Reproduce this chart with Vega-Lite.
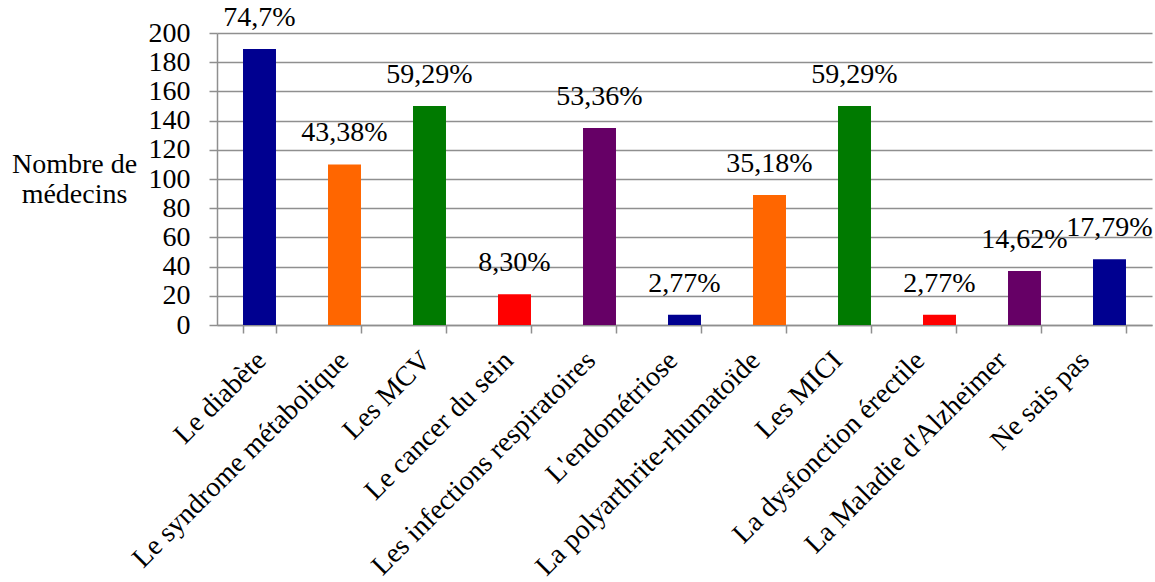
{
  "$schema": "https://vega.github.io/schema/vega-lite/v6.json",
  "autosize": "none",
  "width": 935,
  "height": 292,
  "padding": {"left": 217, "top": 33, "right": 3, "bottom": 257},
  "background": "white",
  "config": {
    "view": {"stroke": null},
    "font": "Liberation Serif",
    "axis": {
      "labelFont": "Liberation Serif",
      "labelFontSize": 28,
      "labelColor": "black",
      "titleFont": "Liberation Serif",
      "titleFontSize": 28,
      "titleFontWeight": "normal",
      "titleColor": "black",
      "domainColor": "#8f8f8f",
      "domainWidth": 1.5,
      "tickColor": "#8f8f8f",
      "tickWidth": 1.5,
      "tickSize": 8,
      "gridColor": "#8f8f8f",
      "gridWidth": 1.5
    }
  },
  "data": {
    "values": [
      {"reponse": "Le diabète", "medecins": 189, "pourcentage": "74,7%"},
      {"reponse": "Le syndrome métabolique", "medecins": 110, "pourcentage": "43,38%"},
      {"reponse": "Les MCV", "medecins": 150, "pourcentage": "59,29%"},
      {"reponse": "Le cancer du sein", "medecins": 21, "pourcentage": "8,30%"},
      {"reponse": "Les infections respiratoires", "medecins": 135, "pourcentage": "53,36%"},
      {"reponse": "L'endométriose", "medecins": 7, "pourcentage": "2,77%"},
      {"reponse": "La polyarthrite-rhumatoïde", "medecins": 89, "pourcentage": "35,18%"},
      {"reponse": "Les MICI", "medecins": 150, "pourcentage": "59,29%"},
      {"reponse": "La dysfonction érectile", "medecins": 7, "pourcentage": "2,77%"},
      {"reponse": "La Maladie d'Alzheimer", "medecins": 37, "pourcentage": "14,62%"},
      {"reponse": "Ne sais pas", "medecins": 45, "pourcentage": "17,79%"}
    ]
  },
  "encoding": {
    "x": {
      "field": "reponse",
      "type": "nominal",
      "sort": null,
      "scale": {"paddingInner": 0.612, "paddingOuter": 0.306},
      "axis": {
        "title": null,
        "labelAngle": -45,
        "labelAlign": "right",
        "labelBaseline": "middle",
        "labelPadding": 23,
        "labelOffset": {"expr": "2 - 27 * datum.index"},
        "tickBand": "extent",
        "grid": false,
        "labelLimit": 0
      }
    },
    "y": {
      "field": "medecins",
      "type": "quantitative",
      "scale": {"domain": [0, 200], "nice": false},
      "axis": {
        "values": [0, 20, 40, 60, 80, 100, 120, 140, 160, 180, 200],
        "title": ["Nombre de", "médecins"],
        "titleAngle": 0,
        "titleAlign": "center",
        "titleBaseline": "middle",
        "titleX": -143,
        "titleY": 131,
        "titleLineHeight": 30,
        "labelPadding": 19,
        "grid": true
      }
    }
  },
  "layer": [
    {
      "mark": {"type": "bar"},
      "encoding": {
        "color": {
          "field": "reponse",
          "type": "nominal",
          "legend": null,
          "scale": {
            "domain": ["Le diabète", "Le syndrome métabolique", "Les MCV", "Le cancer du sein", "Les infections respiratoires", "L'endométriose", "La polyarthrite-rhumatoïde", "Les MICI", "La dysfonction érectile", "La Maladie d'Alzheimer", "Ne sais pas"],
            "range": ["#000090", "#ff6600", "#007a00", "#ff0000", "#660066", "#000090", "#ff6600", "#007a00", "#ff0000", "#660066", "#000090"]
          }
        }
      }
    },
    {
      "mark": {"type": "text", "baseline": "alphabetic", "dy": -23, "font": "Liberation Serif", "fontSize": 28, "color": "black"},
      "encoding": {"text": {"field": "pourcentage"}}
    }
  ]
}
